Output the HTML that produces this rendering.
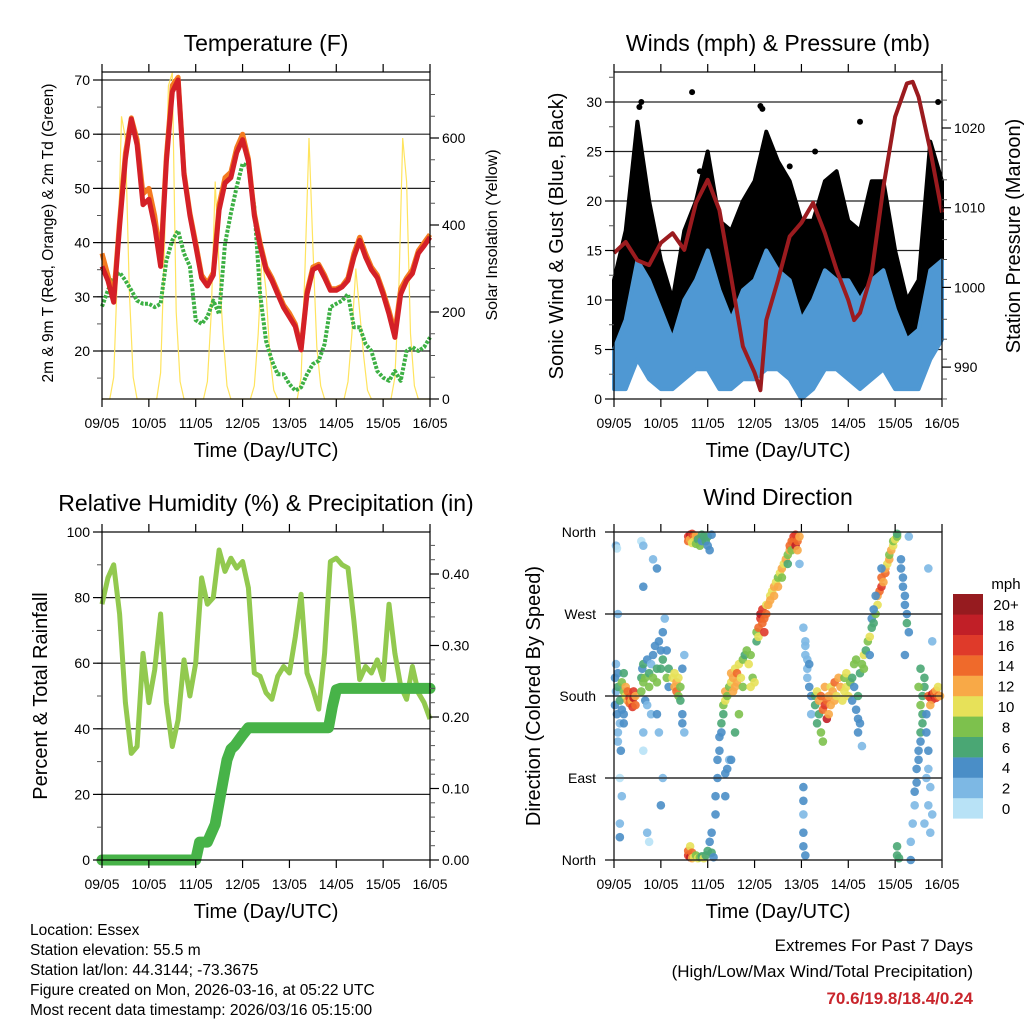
<!DOCTYPE html>
<html><head><meta charset="utf-8"><style>
html,body{margin:0;padding:0;background:#fff}
svg{display:block;font-family:"Liberation Sans",sans-serif}
</style></head><body>
<svg id="fig" width="1024" height="1024" viewBox="0 0 1024 1024" xmlns="http://www.w3.org/2000/svg">
<g id="layer"></g>
<g font-size="15.5" fill="#000">
<text x="30" y="935">Location: Essex</text>
<text x="30" y="955">Station elevation: 55.5 m</text>
<text x="30" y="975">Station lat/lon: 44.3144; -73.3675</text>
<text x="30" y="995">Figure created on Mon, 2026-03-16, at 05:22 UTC</text>
<text x="30" y="1015">Most recent data timestamp: 2026/03/16 05:15:00</text>
</g>
<g text-anchor="end">
<text x="973" y="951" font-size="17">Extremes For Past 7 Days</text>
<text x="973" y="977" font-size="17">(High/Low/Max Wind/Total Precipitation)</text>
<text x="973" y="1004" font-size="17" font-weight="bold" fill="#c9252c">70.6/19.8/18.4/0.24</text>
</g>
</svg>
<script>
// ---------- data ----------
const dayLabels = ["09/05","10/05","11/05","12/05","13/05","14/05","15/05","16/05"];
const tHours = [0,3,6,9,12,15,18,21,24,27,30,33,36,39,42,45,48,51,54,57,60,63,66,69,72,75,78,81,84,87,90,93,96,99,102,105,108,111,114,117,120,123,126,129,132,135,138,141,144,147,150,153,156,159,162,165,168];
const tempRed = [35.6,33,29,43,55.4,62.8,58,47,48,43,35.6,55,67.8,70,52.5,45,39.4,33.5,32,34,46,51,52,56.6,59,55,45,39.4,35,33,30.5,28,26.3,24.5,20.2,30.5,35,35.6,33.5,31.2,31.2,31.8,33,37.3,40.4,37.3,35,33.5,30.5,26.8,22.5,30.5,33,34.3,38,39.4,41];
const tempOrange = [38,34,30,44,56.5,63,59,49,50,45,37,56,69,70.5,53,45.5,40,34,32.5,34.5,47,52,53,57.5,60,55.5,45.5,40,35.5,33.5,31,28.5,27,25,20.5,31,35.5,36,34,31.5,31.5,32,33.5,38,41,38,35.5,34,31,27.5,23.5,31.5,33.5,35,38.5,40,41.5];
const dewGreen = [28.2,31.2,33.5,34.5,33,31.2,29.3,28.7,28.7,28.1,28.7,36.7,40.4,42.2,38,35.6,25.7,25,26.3,29.3,26.8,39.8,45.4,50.3,54.6,54,46.6,30.5,21.9,18.2,15.7,15.7,13.9,12.7,13.3,15.7,17.6,18.2,21.3,28.1,28.7,29.3,30.5,24.4,24.4,21.3,20,16.3,15.1,14.5,16.3,14.5,20,20.7,20,20.7,22.5];
const solarHours = [];
for (let h = 0; h <= 168; h += 2) solarHours.push(h);
const solarValues = [0,0,0,50,300,650,600,250,50,0,0,0, 0,0,0,60,350,720,750,200,40,0,0,0, 0,0,0,40,200,500,300,150,30,0,0,0, 0,0,0,30,150,330,250,100,20,0,0,0, 0,0,0,50,300,600,350,120,30,0,0,0, 0,0,0,40,150,300,200,100,20,0,0,0, 0,0,0,50,250,600,500,150,30,0,0,0, 0];

const presHours = [0,6,12,18,24,30,36,42,48,54,60,66,72,75,78,84,90,96,102,108,114,120,123,126,132,138,144,150,153,156,162,168];
const pressure = [1004.3,1005.7,1003.4,1002.8,1005.6,1006.8,1004.7,1010.6,1013.5,1009.7,1001.3,992.6,989.3,987.1,995.9,1000.9,1006.4,1008.1,1010.6,1006.8,1002.2,998.4,995.9,996.8,1001.8,1012.6,1021.4,1025.6,1025.8,1023.9,1017.2,1009.4];
const windHours = [0,6,12,18,24,30,36,42,48,54,60,66,72,78,84,90,96,102,108,114,120,126,132,138,144,150,156,162,168];
const windMin = [1,1,4,2,1,1,2,3,3,1,1,2,2,3,3,2,0,1,3,3,2,1,2,3,1,1,1,4,6];
const windMax = [5,8,14,12,9,6,10,12,15,11,8,11,12,15,13,12,8,10,13,12,12,10,12,13,9,6,7,13,14];
const gustMin = [3,5,8,5,4,3,5,8,8,5,4,6,7,10,10,8,2,4,9,9,7,4,7,8,4,3,3,10,12];
const gustMax = [12,17,28,20,14,10,17,20,25,18,17,20,22,27,24,22,18,18,22,23,18,17,22,22,15,10,12,26,22];
const gustOutHours = [13,14,40,75,76,103,126,166,44,90,112];
const gustOutVals = [29.5,30,31,29.6,29.3,25,28,30,23,23.5,20.5];

const rhHours = tHours;
const rhValues = [78,86,90,75,48,32.5,34.6,63,48,58,75,48,34.6,42.7,61,50,60,86,78,80,94.5,88,92,89,91,83,57,56,51,49,56,59,57,68,81,57,52,46,63,91,92,90,89,73,55,59,57,61,55,78,63,53,49,59,51,48,43];
const precipHours = [0,48,50,54,58,60,62,64,66,68,72,75,116,118,120,122,168];
const precipValues = [0,0,0.025,0.025,0.05,0.08,0.11,0.14,0.155,0.16,0.175,0.185,0.185,0.215,0.238,0.24,0.24];

const dirHours = [0.5,0.5,1,1,1.5,2,2,3,3,4,4,5,5,6,6,7,7,8,8,9,9,9.5,10,10,11,11,1,1.5,2,2,2,3,3,3,4,3.5,5,5,
14,14,14.5,15,15,16,16,17,18,18,19,19,20,20,21,22,22,23,24,24,25,25,26,27,27,28,28,14,15,15,15,15,17,17,18,20,22,23,22,24,25,
30,31,31,32,32,33,33,34,34,35,35,35,36,36,
38,38,39,39,40,40,41,41,42,42,43,44,45,45,46,47,48,48,49,50,38,38,39,39,40,40,41,42,43,44,45,46,47,48,49,50,50,51,
52,52,53,53,54,54,55,55,56,56,57,57,58,59,60,60,61,61,62,62,63,63,64,65,66,66,67,68,69,70,70,71,72,57,57,58,59,60,62,64,
73,73,74,74,75,75,76,76,77,77,78,78,79,80,80,81,82,82,83,84,84,85,86,86,87,88,89,89,90,90,91,91,92,92,93,93,94,94,95,95,
98,98,99,99,99,100,100,101,101,97,97,97,97,97,98,97,98,
103,103,104,104,105,105,106,106,107,107,108,108,109,109,110,110,111,111,112,113,113,114,115,116,117,118,118,119,119,120,121,122,122,123,123,124,124,125,125,125,126,127,
126,127,128,128,129,130,131,132,132,133,134,135,135,136,137,137,138,139,139,140,141,141,142,143,143,144,145,145,131,133,134,137,
145,145,146,147,147,148,148,149,149,150,150,151,149,151,152,152,153,154,154,155,155,156,156,157,157,158,158,158,159,159,157,156,157,160,160,161,161,160,162,161,163,162,161,163,159,
161,162,163,163,164,164,165,165,166,162,166,167];
const dirValues = [200,170,185,215,160,190,205,150,175,195,165,185,205,180,190,175,185,178,172,180,175,168,178,185,170,180,345,342,270,140,130,90,40,25,70,120,160,150,
185,200,210,195,215,200,175,220,205,190,215,160,225,200,235,210,195,240,230,210,220,250,265,230,200,190,210,350,345,300,140,120,170,30,20,330,320,140,160,60,90,
200,190,205,185,195,200,180,175,190,160,150,210,140,225,
355,350,357,352,358,348,355,350,356,347,352,345,357,350,355,350,355,345,340,357,5,10,3,15,8,2,3,5,2,3,4,2,5,10,20,30,8,3,
50,70,90,110,120,135,140,150,160,170,175,185,180,190,195,205,185,200,190,210,205,195,215,200,220,190,225,230,215,225,190,200,195,70,95,100,110,110,140,160,
240,250,255,245,265,270,260,275,250,265,270,280,280,290,285,295,300,290,305,310,300,315,320,310,325,330,335,325,340,345,350,340,355,350,357,345,350,340,355,325,
235,225,220,210,200,215,190,180,160,80,65,50,30,15,5,255,240,
180,170,185,150,160,175,140,180,165,130,170,190,155,175,180,160,190,170,185,195,175,180,200,190,175,185,200,190,205,180,195,175,200,190,215,220,165,180,155,140,150,125,
205,215,225,210,230,240,245,255,265,260,270,280,290,295,300,310,305,315,320,325,330,335,340,345,350,352,355,358,225,275,290,320,
5,15,2,330,320,310,300,290,280,270,260,250,225,355,0,20,40,60,75,85,100,110,120,130,140,150,160,180,190,200,210,190,170,160,140,120,100,90,80,60,50,30,320,240,40,
180,178,182,176,180,184,178,186,180,170,190,180];
const dirSpeeds = [4,4,2,2,4,6,5,3,6,8,4,8,6,10,12,12,14,16,14,14,12,16,18,16,14,12,2,0,2,2,2,0,2,4,2,4,4,4,
8,6,4,8,6,8,4,4,6,8,2,2,4,8,4,6,8,4,4,6,6,4,2,4,8,4,6,0,2,4,2,0,2,2,0,2,4,2,4,4,2,
10,12,10,14,12,10,8,6,8,4,4,4,2,2,
16,14,18,12,16,10,14,10,12,8,6,8,6,4,6,6,6,4,4,4,16,14,18,10,14,12,10,8,10,8,6,10,6,6,4,4,6,4,
4,4,4,4,4,4,4,6,6,8,10,12,8,8,10,12,12,12,12,10,14,12,10,10,8,8,6,8,10,8,10,8,10,4,4,4,2,4,6,8,
6,8,14,10,16,18,14,16,16,14,14,10,12,10,12,10,12,12,10,8,12,10,12,8,10,12,8,6,12,14,14,8,16,14,16,18,14,12,12,2,
2,2,2,2,2,4,4,4,2,4,4,2,4,4,4,2,2,
6,6,10,6,6,12,8,14,14,8,16,12,18,14,12,12,10,12,12,14,12,10,12,12,10,10,8,10,10,10,8,4,6,4,8,8,4,6,4,4,4,2,
6,8,10,8,6,8,10,6,4,6,8,10,12,14,16,14,12,14,12,10,12,8,12,10,8,10,8,6,4,4,4,4,
6,6,6,4,4,4,4,4,4,4,6,4,4,2,4,2,2,2,4,4,4,4,4,4,6,6,6,6,6,6,6,8,8,4,4,4,2,2,2,2,2,2,2,2,2,
14,16,18,16,18,14,16,12,14,12,10,12];
const speedLabels = ["0","2","4","6","8","10","12","14","16","18","20+"];
const speedColors = ["#b8e2f6","#7db8e4","#4a8ec7","#4aa774","#7dc14d","#e7e159","#f8a947","#ef6a2b","#df3a2a","#c11f27","#961b1f"];

// ---------- helpers ----------
const NS = "http://www.w3.org/2000/svg";
const layer = document.getElementById("layer");
function mk(tag, attrs, parent) {
  const e = document.createElementNS(NS, tag);
  for (const k in attrs) e.setAttribute(k, attrs[k]);
  (parent || layer).appendChild(e);
  return e;
}
function txt(x, y, s, attrs, parent) {
  const e = mk("text", Object.assign({x: x, y: y}, attrs), parent);
  e.textContent = s;
  return e;
}
function path(pts) { return pts.map((p, i) => (i ? "L" : "M") + p[0].toFixed(1) + " " + p[1].toFixed(1)).join(""); }

function makePanel(name, x0, x1, y0, y1) {
  const g = mk("g", {});
  
  
  const X = h => x0 + h * (x1 - x0) / 168;
  return {g, X, x0, x1, y0, y1};
}
function frameAndXAxis(P, title, titleY) {
  const g = P.g;
  const fr = mk("rect", {x: P.x0, y: P.y0, width: P.x1 - P.x0, height: P.y1 - P.y0, fill: "none", stroke: "#000", "stroke-width": 1.2}, g);
  
  
  const ax = mk("g", {}, g);
  
  
  dayLabels.forEach((d, i) => {
    const x = P.X(i * 24);
    mk("line", {x1: x, x2: x, y1: P.y1, y2: P.y1 + 8, stroke: "#000", "stroke-width": 1.2}, ax);
    mk("line", {x1: x, x2: x, y1: P.y0, y2: P.y0 - 8, stroke: "#000", "stroke-width": 1.2}, ax);
    const t = txt(x, P.y1 + 29, d, {"font-size": 14, "text-anchor": "middle"}, ax);
    
    
  });
  const xt = txt((P.x0 + P.x1) / 2, P.y1 + 58, "Time (Day/UTC)", {"font-size": 20, "text-anchor": "middle"}, g);
  
  
  const tt = txt((P.x0 + P.x1) / 2, titleY, title, {"font-size": 23, "text-anchor": "middle"}, g);
  
  
}
function hGrid(P, ys) {
  ys.forEach(y => mk("line", {x1: P.x0, x2: P.x1, y1: y, y2: y, stroke: "#222", "stroke-width": 1.2}, P.g));
}
function yTicks(P, side, vals, Y, fmt, minorVals, name) {
  const ax = mk("g", {}, P.g);
  
  
  const x = side === "left" ? P.x0 : P.x1;
  const d = side === "left" ? -1 : 1;
  minorVals.forEach(v => { const y = Y(v); if (y >= P.y0 - 0.5 && y <= P.y1 + 0.5) mk("line", {x1: x, x2: x + d * 5, y1: y, y2: y, stroke: "#555", "stroke-width": 1}, ax); });
  vals.forEach(v => {
    const y = Y(v);
    mk("line", {x1: x, x2: x + d * 9, y1: y, y2: y, stroke: "#000", "stroke-width": 1.2}, ax);
    const t = txt(x + d * 12, y + 5, fmt(v), {"font-size": 14, "text-anchor": side === "left" ? "end" : "start"}, ax);
    
    
  });
}
function rotLabel(x, y, s, size, name, g) {
  const t = txt(0, 0, s, {"font-size": size, "text-anchor": "middle", transform: "translate(" + x + "," + y + ") rotate(-90)"}, g);
  
  
}
function range(a, b, s) { const r = []; for (let v = a; v <= b + 1e-9; v += s) r.push(+v.toFixed(4)); return r; }

// ---------- Panel 1: Temperature ----------
(function () {
  const P = makePanel("temperature-panel", 102, 430, 72, 399);
  const Y = t => 351 - (t - 20) * 5.42;
  const YS = s => 399 - s * 0.435;
  hGrid(P, [20, 30, 40, 50, 60, 70].map(Y));
  const s = mk("path", {d: path(solarHours.map((h, i) => [P.X(h), YS(solarValues[i])])), fill: "none", stroke: "#ffe45e", "stroke-width": 1.2}, P.g);
  
  
  const gr = mk("path", {d: path(tHours.map((h, i) => [P.X(h), Y(dewGreen[i])])), fill: "none", stroke: "#3db044", "stroke-width": 4, "stroke-dasharray": "3 1.5", "stroke-linejoin": "round"}, P.g);
  
  
  const o = mk("path", {d: path(tHours.map((h, i) => [P.X(h), Y(tempOrange[i])])), fill: "none", stroke: "#f47b20", "stroke-width": 5, "stroke-linejoin": "round"}, P.g);
  
  
  const r = mk("path", {d: path(tHours.map((h, i) => [P.X(h), Y(tempRed[i])])), fill: "none", stroke: "#d42027", "stroke-width": 5, "stroke-linejoin": "round"}, P.g);
  
  
  frameAndXAxis(P, "Temperature (F)", 51);
  yTicks(P, "left", [20, 30, 40, 50, 60, 70], Y, v => String(v), range(15, 70, 5), "y-axis-left");
  yTicks(P, "right", [0, 200, 400, 600], YS, v => String(v), range(0, 700, 50), "y-axis-right");
  rotLabel(53, 233, "2m & 9m T (Red, Orange) & 2m Td (Green)", 15.5, "y-axis-title-left", P.g);
  rotLabel(497, 235, "Solar Insolation (Yellow)", 16, "y-axis-title-right", P.g);
})();

// ---------- Panel 2: Winds ----------
(function () {
  const P = makePanel("winds-panel", 614, 942, 72, 399);
  const Y = v => 399 - v * 9.9;
  const YP = p => 128 + (1020 - p) * 7.97;
  hGrid(P, [5, 10, 15, 20, 25, 30].map(Y));
  const band = (lo, hi, col, name) => {
    const top = windHours.map((h, i) => [P.X(h), Y(hi[i])]);
    const bot = windHours.map((h, i) => [P.X(h), Y(lo[i])]).reverse();
    const e = mk("path", {d: path(top.concat(bot)) + "Z", fill: col, stroke: col, "stroke-width": 4, "stroke-linejoin": "round"}, P.g);
    
    
  };
  band(gustMin, gustMax, "#000", "gust-scatter");
  gustOutHours.forEach((h, i) => {
    const c = mk("circle", {cx: P.X(h), cy: Y(gustOutVals[i]), r: 3, fill: "#000"}, P.g);
    
    
  });
  band(windMin, windMax, "#4f98d3", "wind-speed-line");
  const p = mk("path", {d: path(presHours.map((h, i) => [P.X(h), YP(pressure[i])])), fill: "none", stroke: "#9b1b1f", "stroke-width": 4, "stroke-linejoin": "round"}, P.g);
  
  
  frameAndXAxis(P, "Winds (mph) & Pressure (mb)", 51);
  yTicks(P, "left", [0, 5, 10, 15, 20, 25, 30], Y, v => String(v), range(0, 33, 2.5), "y-axis-left");
  yTicks(P, "right", [990, 1000, 1010, 1020], YP, v => String(v), range(986, 1028, 2.5), "y-axis-right");
  rotLabel(563, 236, "Sonic Wind & Gust (Blue, Black)", 20, "y-axis-title-left", P.g);
  rotLabel(1020, 236, "Station Pressure (Maroon)", 20, "y-axis-title-right", P.g);
})();

// ---------- Panel 3: RH & precip ----------
(function () {
  const P = makePanel("humidity-panel", 102, 430, 532, 860);
  const Y = v => 860 - v * 3.28;
  const YR = v => 860 - v * 715;
  hGrid(P, [20, 40, 60, 80].map(Y));
  const rh = mk("path", {d: path(rhHours.map((h, i) => [P.X(h), Y(rhValues[i])])), fill: "none", stroke: "#92c94f", "stroke-width": 5, "stroke-linejoin": "round"}, P.g);
  
  
  const pr = mk("path", {d: path(precipHours.map((h, i) => [P.X(h), YR(precipValues[i])])), fill: "none", stroke: "#47b348", "stroke-width": 11, "stroke-linejoin": "round", "stroke-linecap": "round"}, P.g);
  
  
  frameAndXAxis(P, "Relative Humidity (%) & Precipitation (in)", 511);
  yTicks(P, "left", [0, 20, 40, 60, 80, 100], Y, v => String(v), range(0, 100, 10), "y-axis-left");
  yTicks(P, "right", [0, 0.1, 0.2, 0.3, 0.4], YR, v => v.toFixed(2), range(0, 0.45, 0.02), "y-axis-right");
  rotLabel(47, 696, "Percent & Total Rainfall", 20, "y-axis-title-left", P.g);
})();

// ---------- Panel 4: Wind direction ----------
(function () {
  const P = makePanel("wind-direction-panel", 614, 942, 532, 860);
  const Y = d => 860 - d * 328 / 360;
  hGrid(P, [90, 180, 270].map(Y));
  dirHours.forEach((h, i) => {
    const idx = Math.min(10, Math.floor(dirSpeeds[i] / 2));
    const c = mk("circle", {cx: P.X(h), cy: Y(dirValues[i]), r: 4.3, fill: speedColors[idx], "fill-opacity": 0.9}, P.g);
    
    
  });
  frameAndXAxis(P, "Wind Direction", 505);
  const names = ["North", "East", "South", "West", "North"];
  const ax = mk("g", {}, P.g);
  
  
  [0, 90, 180, 270, 360].forEach((d, i) => {
    const y = Y(d);
    mk("line", {x1: P.x0 - 9, x2: P.x0, y1: y, y2: y, stroke: "#000", "stroke-width": 1.2}, ax);
    mk("line", {x1: P.x0, x2: P.x1, y1: y, y2: y, stroke: "#222", "stroke-width": 1.2}, ax);
    const t = txt(P.x0 - 18, y + 5, names[i], {"font-size": 14, "text-anchor": "end"}, ax);
    
    
  });
  rotLabel(540, 696, "Direction (Colored By Speed)", 20, "y-axis-title-left", P.g);
  const cb = mk("g", {}, P.g);
  
  
  const t0 = txt(1006, 589, "mph", {"font-size": 15, "text-anchor": "middle"}, cb);
  
  
  speedLabels.forEach((lab, i) => {
    const y = 594 + (10 - i) * 20.4;
    mk("rect", {x: 953, y: y, width: 30, height: 20.6, fill: speedColors[i]}, cb);
    const t = txt(1006, y + 16, lab, {"font-size": 15, "text-anchor": "middle"}, cb);
    
    
  });
})();
</script>
</body></html>
